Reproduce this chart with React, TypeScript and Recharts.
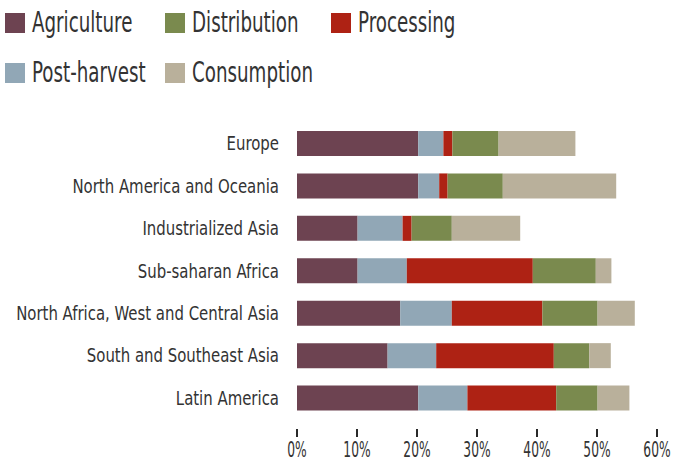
import { BarChart, Bar, XAxis, YAxis } from "recharts";

const REGIONS = [
  "Europe",
  "North America and Oceania",
  "Industrialized Asia",
  "Sub-saharan Africa",
  "North Africa, West and Central Asia",
  "South and Southeast Asia",
  "Latin America",
];
const AGRICULTURE = [20.2, 20.2, 10.1, 10.1, 17.2, 15.1, 20.2];
const POST_HARVEST = [4.2, 3.5, 7.5, 8.2, 8.6, 8.1, 8.2];
const PROCESSING = [1.5, 1.4, 1.5, 21.0, 15.1, 19.6, 14.8];
const DISTRIBUTION = [7.7, 9.2, 6.7, 10.5, 9.2, 5.9, 6.9];
const CONSUMPTION = [12.8, 18.9, 11.4, 2.6, 6.2, 3.6, 5.3];
const X_TICKS = [0, 10, 20, 30, 40, 50, 60];

const SERIES = [
  { key: "Agriculture", values: AGRICULTURE, color: "#6d4351" },
  { key: "Post-harvest", values: POST_HARVEST, color: "#91a7b6" },
  { key: "Processing", values: PROCESSING, color: "#ae2214" },
  { key: "Distribution", values: DISTRIBUTION, color: "#7a8a4e" },
  { key: "Consumption", values: CONSUMPTION, color: "#b9b09b" },
];
// legend slots: [name, column, row]
const LEGEND_SLOTS: [string, number, number][] = [
  ["Agriculture", 0, 0],
  ["Distribution", 1, 0],
  ["Processing", 2, 0],
  ["Post-harvest", 0, 1],
  ["Consumption", 1, 1],
];
const LEGEND_COLS = [5, 165, 331];
const LEGEND_ROWS = [13, 63];

const FONT = '"DejaVu Sans Condensed", "DejaVu Sans", sans-serif';
const TEXT = "#333";

const data = REGIONS.map((region, i) => {
  const row: Record<string, string | number> = { region };
  SERIES.forEach(s => (row[s.key] = s.values[i]));
  return row;
});

// the source uses a tall condensed face, so squeeze DejaVu horizontally
const RegionTick = ({ x, y, payload }: any) => (
  <text
    transform={`translate(${x - 10},${y}) scale(0.83,1)`}
    dy={7}
    textAnchor="end"
    fill={TEXT}
    fontFamily={FONT}
    fontSize={20}
  >
    {payload.value}
  </text>
);

const PercentTick = ({ x, y, payload }: any) => (
  <g transform={`translate(${x},${y})`}>
    <rect x={-1} y={2} width={2} height={8} fill="#2a2a2a" />
    <text transform="translate(0,30) scale(0.62,1)" textAnchor="middle" fill={TEXT} fontFamily={FONT} fontSize={22}>
      {payload.value}%
    </text>
  </g>
);

const LegendBlock = () => (
  <div style={{ position: "absolute", left: 0, top: 0, width: 673, height: 100, fontFamily: FONT, color: TEXT }}>
    {LEGEND_SLOTS.map(([name, col, row]) => {
      const s = SERIES.find(v => v.key === name)!;
      return (
        <div
          key={name}
          style={{
            position: "absolute",
            left: LEGEND_COLS[col],
            top: LEGEND_ROWS[row],
            height: 20,
            display: "flex",
            alignItems: "center",
            whiteSpace: "nowrap",
          }}
        >
          <span style={{ width: 20, height: 20, background: s.color, display: "inline-block", flex: "none" }} />
          <span
            style={{
              marginLeft: 7,
              fontSize: 29,
              lineHeight: "20px",
              display: "inline-block",
              transform: "scale(0.7,1) translateY(-1px)",
              transformOrigin: "left center",
            }}
          >
            {name}
          </span>
        </div>
      );
    })}
  </div>
);

export default function App() {
  return (
    <div style={{ position: "absolute", left: 0, top: 0, width: 673, height: 462, background: "#fff" }}>
      <BarChart
        width={673}
        height={462}
        data={data}
        layout="vertical"
        margin={{ top: 122, right: 16, bottom: 13, left: 0 }}
        barSize={25}
      >
        <XAxis
          type="number"
          domain={[0, 60]}
          ticks={X_TICKS}
          height={30}
          axisLine={false}
          tickLine={false}
          tick={<PercentTick />}
          interval={0}
        />
        <YAxis
          type="category"
          dataKey="region"
          width={297}
          axisLine={false}
          tickLine={false}
          tick={<RegionTick />}
          interval={0}
        />
        {SERIES.map(s => (
          <Bar key={s.key} dataKey={s.key} stackId="loss" fill={s.color} isAnimationActive={false} />
        ))}
      </BarChart>
      <LegendBlock />
    </div>
  );
}
